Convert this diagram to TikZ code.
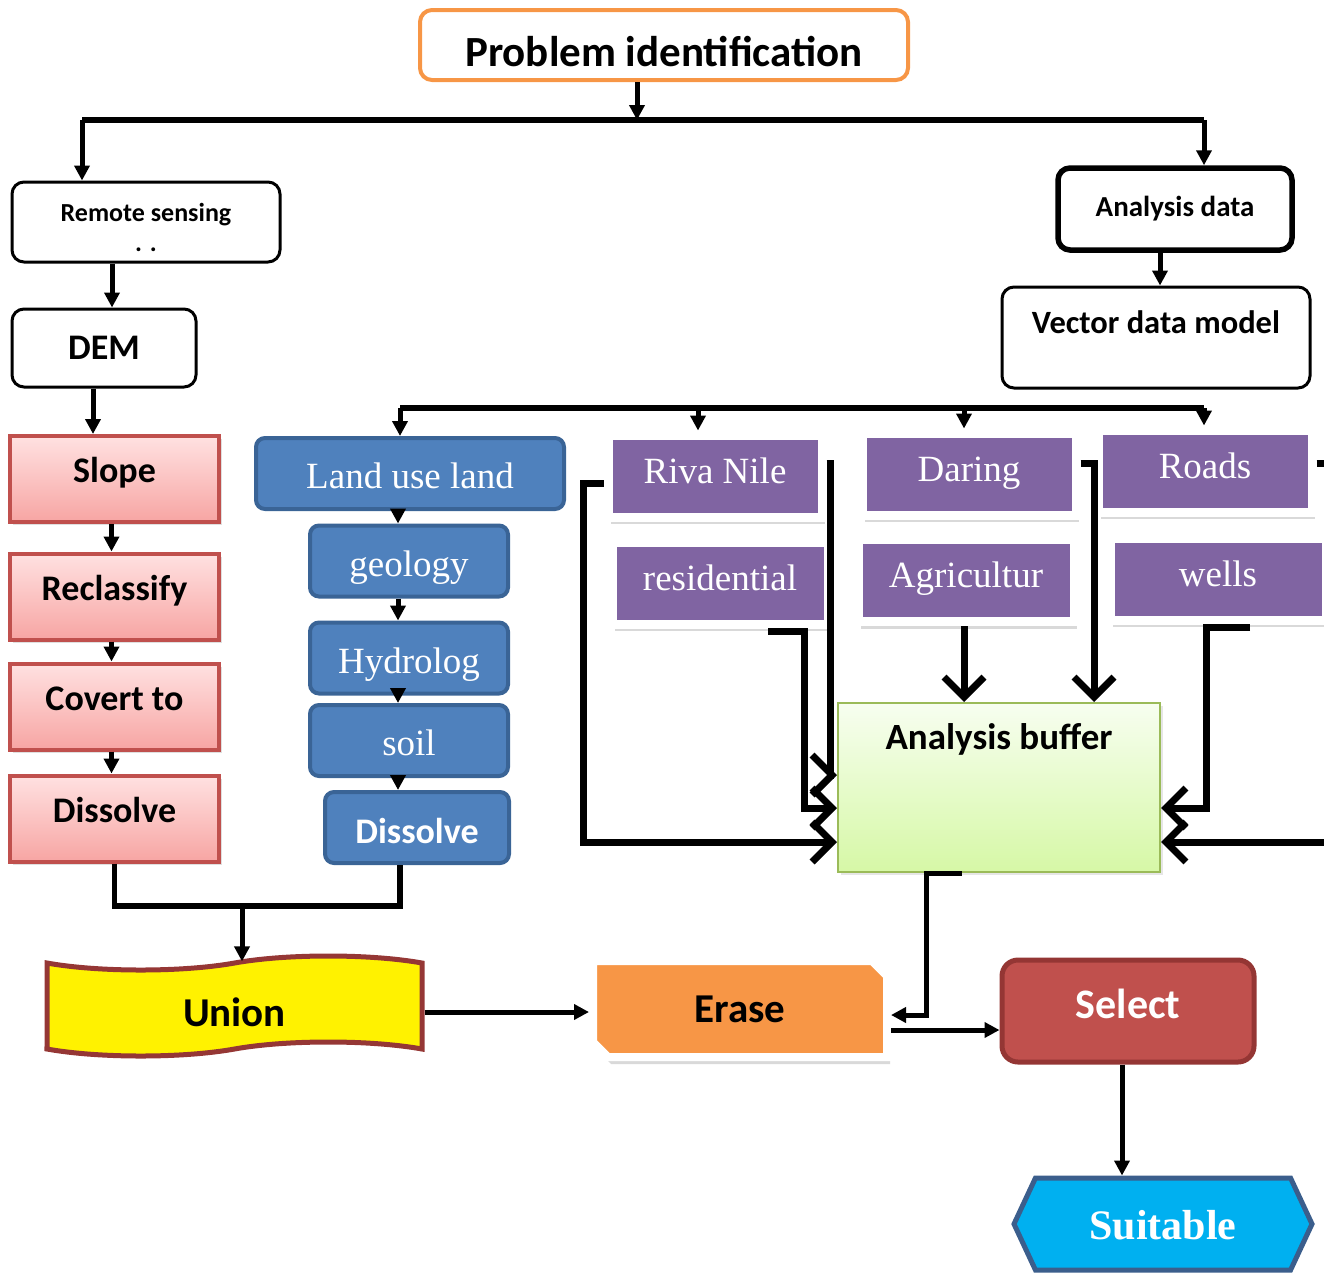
\documentclass[tikz,border=0pt]{standalone}
\usepackage{fontspec}
\setmainfont{Liberation Serif}
\newfontfamily\calibfont{Carlito}
\usetikzlibrary{arrows.meta,shapes.misc,shapes.symbols,shadows}

\definecolor{orangeline}{HTML}{F79646}
\definecolor{redline}{HTML}{C0504D}
\definecolor{redtop}{HTML}{FFE1E1}
\definecolor{redbot}{HTML}{F7A5A3}
\definecolor{bluefill}{HTML}{4F81BD}
\definecolor{blueline}{HTML}{3A6496}
\definecolor{purplefill}{HTML}{8064A2}
\definecolor{greentop}{HTML}{F7FEF0}
\definecolor{greenbot}{HTML}{D6F8A6}
\definecolor{greenline}{HTML}{9BBB59}
\definecolor{unionline}{HTML}{953735}
\definecolor{selectline}{HTML}{943634}
\definecolor{suitfill}{HTML}{00B0F0}
\definecolor{suitline}{HTML}{3B5E8C}

\tikzset{
  line/.style={line width=5.5pt},
  arr/.style={line width=5pt,-{Triangle[length=15pt,width=15pt]}},
  heavy/.style={line width=7pt,-{Straight Barb[length=20pt,width=40pt]}},
  plainbox/.style={draw,rounded corners=12pt,line width=3pt,align=center,
    font=\calibfont\bfseries\fontsize{29}{33}\selectfont},
  redbox/.style={draw=redline,line width=4pt,top color=redtop,bottom color=redbot,
    minimum width=209pt,minimum height=86pt,text height=22pt,text depth=15pt,
    drop shadow={opacity=.25,shadow xshift=3pt,shadow yshift=-3pt},
    font=\calibfont\bfseries\fontsize{36}{40}\selectfont},
  bluebox/.style={draw=blueline,fill=bluefill,rounded corners=9pt,line width=4pt,
    text=white,minimum height=71pt,text height=30pt,text depth=0pt,
    font=\fontsize{37}{40}\selectfont},
  purplebox/.style={draw=white,fill=purplefill,line width=9pt,text=white,
    minimum width=214pt,minimum height=82pt,text height=26pt,text depth=12pt,
    drop shadow={opacity=.3,shadow xshift=3pt,shadow yshift=-7pt},
    font=\fontsize{37}{40}\selectfont},
}

\begin{document}
\begin{tikzpicture}[x=1pt,y=-1pt]
  \useasboundingbox (0,0) rectangle (1324,1272);

  % top of the chart
  \node[plainbox,draw=orangeline,line width=4pt,minimum width=488pt,minimum height=70pt,
    text height=42pt,text depth=0pt,font=\calibfont\bfseries\fontsize{43}{46}\selectfont]
    (prob) at (664,45) {Problem identification};
  \node[plainbox,minimum width=268pt,minimum height=80pt,
    font=\calibfont\bfseries\fontsize{26}{30}\selectfont] (rs) at (146,222)
    {\rule{0pt}{30pt}Remote sensing\\. .};
  \node[plainbox,line width=5.5pt,minimum width=234pt,minimum height=82pt] (adata) at (1175,209) {Analysis data};
  \node[plainbox,minimum width=308pt,minimum height=101pt,text height=21pt,text depth=30pt,
    font=\calibfont\bfseries\fontsize{32.5}{36}\selectfont] (vdm) at (1156,337.5) {Vector data model};
  \node[plainbox,minimum width=184pt,minimum height=78pt,
    font=\calibfont\bfseries\fontsize{36}{40}\selectfont] (dem) at (104,348) {DEM};

  \coordinate (bar) at (637,120);
  \coordinate (barL) at (82,120);
  \coordinate (barR) at (1204,120);
  \draw[arr] (bar |- prob.south) -- (bar);
  \draw[line] (barL) -- (barR);
  \draw[arr] (barL) -- (barL |- rs.north);
  \draw[arr] (barR) -- (barR |- adata.north);
  \draw[arr] ([xshift=-34pt]rs.south) -- ([xshift=-34pt]rs.south |- dem.north);
  \draw[arr] ([xshift=-15pt]adata.south) -- ([xshift=-15pt]adata.south |- vdm.north);

  % raster column
  \node[redbox] (slope) at (114.5,479) {Slope};
  \node[redbox] (recl) at (114.5,596.5) {Reclassify};
  \node[redbox] (covert) at (114.5,706.5) {Covert to};
  \node[redbox] (diss1) at (114.5,818.5) {Dissolve};

  \draw[arr] ([xshift=-11pt]dem.south) -- ([xshift=-11pt]dem.south |- slope.north);
  \draw[arr] ([xshift=-3pt]slope.south) -- ([xshift=-3pt]recl.north);
  \draw[arr] ([xshift=-3pt]recl.south) -- ([xshift=-3pt]covert.north);
  \draw[arr] ([xshift=-3pt]covert.south) -- ([xshift=-3pt]diss1.north);

  % blue column
  \node[bluebox,minimum width=308pt] (land) at (410,473.5) {Land use land};
  \node[bluebox,minimum width=198pt] (geol) at (409,561) {geology};
  \node[bluebox,minimum width=198pt] (hydro) at (409,658) {Hydrolog};
  \node[bluebox,minimum width=198pt] (soil) at (409,740.5) {soil};
  \node[bluebox,minimum width=184pt,text height=31pt,
    font=\calibfont\bfseries\fontsize{36}{40}\selectfont] (diss2) at (417,827.5) {Dissolve};

  \draw[arr] ([xshift=-12pt]land.south) -- ([xshift=-12pt]land.south |- geol.north);
  \draw[arr] ([xshift=-11pt]geol.south) -- ([xshift=-11pt]hydro.north);
  \draw[arr] ([xshift=-11pt]hydro.south) -- ([xshift=-11pt]soil.north);
  \draw[arr] ([xshift=-11pt]soil.south) -- ([xshift=-19pt]diss2.north);

  % vector data
  \node[purplebox] (riva) at (715,476) {Riva Nile};
  \node[purplebox] (daring) at (969,474) {Daring};
  \node[purplebox] (roads) at (1205,471) {Roads};
  \node[purplebox,minimum width=216pt] (resid) at (720,583) {residential};
  \node[purplebox,minimum width=216pt] (agri) at (966,580.5) {Agricultur};
  \node[purplebox,minimum width=216pt] (wells) at (1218,579) {wells};

  \coordinate (barV) at (400,408);
  \coordinate (barW) at (1204,408);
  \draw[line] (barV) -- (barW);
  \draw[arr] (barV) -- (barV |- land.north);
  \draw[arr] (698,408) -- (698,408 |- riva.north);
  \draw[arr] (964,408) -- (964,408 |- daring.north);
  \draw[arr] (barW) -- (barW |- roads.north);

  \node[draw=greenline,line width=2pt,top color=greentop,bottom color=greenbot,
    minimum width=322pt,minimum height=169pt,text height=25pt,text depth=102pt,
    drop shadow={opacity=.2,shadow xshift=3pt,shadow yshift=-3pt},
    font=\calibfont\bfseries\fontsize{37}{40}\selectfont] (buffer) at (999,787.5) {Analysis buffer};

  \draw[heavy] ([yshift=-7pt]riva.west) -- ++(-20,0) |- ([yshift=-54.5pt]buffer.west);
  \draw[heavy] ([yshift=13pt]riva.east) -| (830,775) -- (830,775 -| buffer.west);
  \draw[heavy] ([xshift=48pt,yshift=-3pt]resid.south) -- ++(36,0) |- ([yshift=-20.5pt]buffer.west);
  \draw[heavy] ([xshift=-2pt]agri.south) -- ([xshift=-2pt]agri.south |- buffer.north);
  \draw[heavy] ([yshift=11pt]daring.east) -| ([xshift=95pt]buffer.north);
  \draw[heavy] ([yshift=8pt]roads.east) -- ++(22,0) |- ([yshift=-54.5pt]buffer.east);
  \draw[heavy] ([xshift=32pt,yshift=-3pt]wells.south) -- ++(-44,0) |- ([yshift=-20.5pt]buffer.east);

  % results
  \node[tape,draw=unionline,fill=yellow,line width=5pt,minimum width=375pt,minimum height=100pt,
    tape bend height=14pt,text height=41pt,text depth=0pt,
    font=\calibfont\bfseries\fontsize{41}{44}\selectfont] (union) at (234.5,1006) {Union};
  \node[chamfered rectangle,chamfered rectangle corners={north east,south west},
    chamfered rectangle xsep=12pt,draw=white,fill=orangeline,line width=8pt,
    minimum width=294pt,minimum height=96pt,text height=27pt,text depth=0pt,
    drop shadow={opacity=.3,shadow xshift=3pt,shadow yshift=-7pt},
    font=\calibfont\bfseries\fontsize{41}{44}\selectfont] (erase) at (740,1009) {Erase};
  \node[draw=selectline,fill=redline,rounded corners=16pt,line width=5pt,text=white,
    minimum width=252pt,minimum height=102pt,text height=27pt,text depth=12pt,
    font=\calibfont\bfseries\fontsize{42}{46}\selectfont] (select) at (1128,1011) {Select};
  \node[signal,signal to=east and west,signal pointer angle=130,draw=suitline,fill=suitfill,
    line width=5pt,text=white,minimum width=298pt,minimum height=92pt,
    text height=30pt,text depth=0pt,font=\bfseries\fontsize{42}{46}\selectfont]
    (suit) at (1163,1224) {Suitable};

  \coordinate (join) at (242,906);
  \draw[line] (diss1.south) -- (diss1.south |- join) -- (join -| 400,0) -- ([xshift=-17pt]diss2.south);
  \draw[arr] (join) -- (join |- union.north);
  \draw[arr] ([yshift=-6pt]union.east) -- ([yshift=-6pt]union.east -| erase.west);
  \draw[arr] ([xshift=-37pt]buffer.south) -- ++(-36,0) |- ([yshift=-6pt]erase.east);
  \draw[arr] ([yshift=-21pt]erase.east) -- ([yshift=-21pt]erase.east -| select.west);
  \draw[arr] ([xshift=-6pt]select.south) -- ([xshift=-6pt]select.south |- suit.north);
\end{tikzpicture}
\end{document}
